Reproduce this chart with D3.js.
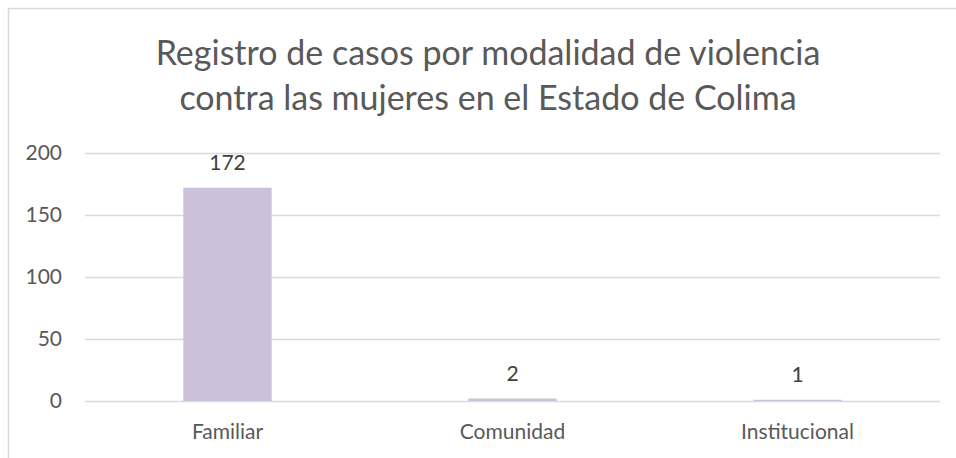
<!DOCTYPE html>
<html>
<head>
<meta charset="utf-8">
<script src="https://cdnjs.cloudflare.com/ajax/libs/d3/7.8.5/d3.min.js"></script>
<style>
  body { margin: 0; background: #fff; }
  text { font-family: Lato, "Open Sans", sans-serif; }
</style>
</head>
<body>
<div id="chart-area"></div>
<script>
var categories = ["Familiar", "Comunidad", "Institucional"];
var values = [172, 2, 1];
var yTicks = [0, 50, 100, 150, 200];
var titleLines = ["Registro de casos por modalidad de violencia",
                  "contra las mujeres en el Estado de Colima"];

const W = 956, H = 458;
const MARGIN = { LEFT: 85, RIGHT: 16, TOP: 153, BOTTOM: 57 };
const WIDTH = W - MARGIN.LEFT - MARGIN.RIGHT;
const HEIGHT = H - MARGIN.TOP - MARGIN.BOTTOM;
const FONT = "Lato, 'Open Sans', sans-serif";

const svg = d3.select("#chart-area").append("svg")
  .attr("width", W)
  .attr("height", H);

// chart frame (runs off the right and bottom edges)
svg.append("rect")
  .attr("x", 8.5).attr("y", 8.5)
  .attr("width", W + 20).attr("height", H + 20)
  .attr("fill", "#fff")
  .attr("stroke", "#d9d9d9")
  .attr("stroke-width", 1.5);

// title
const title = svg.append("g");
titleLines.forEach(function(t, i) {
  title.append("text")
    .attr("x", 488)
    .attr("y", 65 + i * 45)
    .attr("text-anchor", "middle")
    .attr("fill", "#595959")
    .style("font-size", "34px")
    .text(t);
});

const g = svg.append("g")
  .attr("transform", `translate(${MARGIN.LEFT}, ${MARGIN.TOP})`);

var xScale = d3.scaleBand()
  .domain(categories)
  .range([0, WIDTH])
  .paddingInner(0.69)
  .paddingOuter(0.345);

var yScale = d3.scaleLinear()
  .domain([0, 200])
  .range([HEIGHT, 0]);

// gridlines
g.append("g")
  .call(d3.axisLeft(yScale).tickValues(yTicks).tickSize(-WIDTH).tickFormat(""))
  .call(s => s.select(".domain").remove())
  .call(s => s.selectAll("line").attr("stroke", "#d9d9d9").attr("stroke-width", 1.5));

// y labels
g.append("g")
  .call(d3.axisLeft(yScale).tickValues(yTicks).tickSize(0).tickPadding(23))
  .call(s => s.select(".domain").remove())
  .call(s => s.selectAll("text")
    .attr("fill", "#595959")
    .style("font-size", "21px")
    .style("font-family", FONT));

// bars
g.selectAll("rect.bar")
  .data(values)
  .enter().append("rect")
  .attr("class", "bar")
  .attr("x", (d, i) => xScale(categories[i]))
  .attr("y", d => yScale(d))
  .attr("width", xScale.bandwidth())
  .attr("height", d => HEIGHT - yScale(d))
  .attr("fill", "#ccc1da");

// value labels
g.selectAll("text.val")
  .data(values)
  .enter().append("text")
  .attr("class", "val")
  .attr("x", (d, i) => xScale(categories[i]) + xScale.bandwidth() / 2)
  .attr("y", d => yScale(d) - 18)
  .attr("text-anchor", "middle")
  .attr("fill", "#404040")
  .style("font-size", "21px")
  .text(d => d);

// x labels
g.append("g")
  .attr("transform", `translate(0, ${HEIGHT})`)
  .call(d3.axisBottom(xScale).tickSize(0).tickPadding(23))
  .call(s => s.select(".domain").remove())
  .call(s => s.selectAll("text")
    .attr("fill", "#595959")
    .style("font-size", "21px")
    .style("font-family", FONT));
</script>
</body>
</html>
